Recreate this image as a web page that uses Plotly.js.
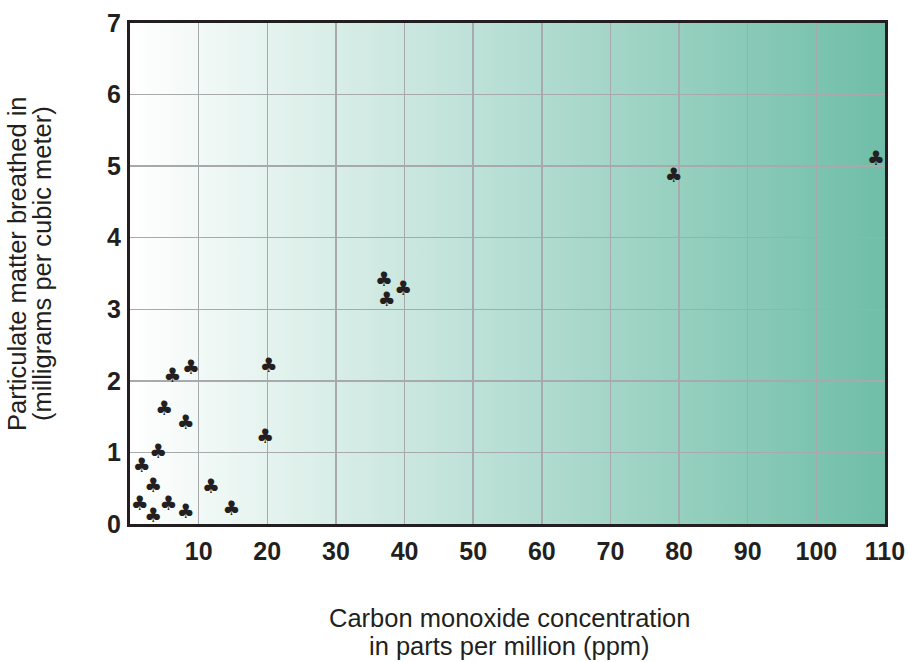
<!DOCTYPE html>
<html>
<head>
<meta charset="utf-8">
<script src="https://cdn.plot.ly/plotly-3.0.1.min.js"></script>
<style>html,body{margin:0;padding:0;background:#fff;}#chart{width:909px;height:662px;}</style>
</head>
<body>
<div id="chart"></div>
<script>
// Data
var coPpm = [1.4, 1.7, 3.4, 3.4, 4.1, 5.0, 5.6, 6.2, 8.1, 8.1, 8.9, 11.8, 14.8, 19.7, 20.2, 37.0, 37.4, 39.8, 79.2, 108.7];
var pmMg  = [0.27, 0.80, 0.52, 0.10, 0.99, 1.59, 0.27, 2.06, 1.40, 0.15, 2.16, 0.51, 0.19, 1.20, 2.19, 3.39, 3.12, 3.27, 4.85, 5.09];
var xTicks = [10, 20, 30, 40, 50, 60, 70, 80, 90, 100, 110];
var yTicks = [0, 1, 2, 3, 4, 5, 6, 7];
var xTitleLines = ["Carbon monoxide concentration", "in parts per million (ppm)"];
var yTitleLines = ["Particulate matter breathed in", "(milligrams per cubic meter)"];

var ink = "#231f20";
var svg = '<svg xmlns="http://www.w3.org/2000/svg" width="100" height="100" preserveAspectRatio="none" viewBox="0 0 100 100">' +
  '<defs><linearGradient id="g" x1="0" y1="0" x2="1" y2="0">' +
  '<stop offset="0" stop-color="#ffffff"/><stop offset="1" stop-color="#6fbea7"/>' +
  '</linearGradient></defs><rect x="0" y="0" width="100" height="100" fill="url(#g)"/></svg>';

var trace = {
  x: coPpm, y: pmMg, type: "scatter", mode: "text",
  text: coPpm.map(function(){ return "\u2663"; }),
  textposition: "middle center",
  textfont: {family: "DejaVu Sans", size: 20, color: ink, weight: "bold"},
  hoverinfo: "x+y", showlegend: false, cliponaxis: false
};

var tickFont = {family: "Liberation Sans, Arial, sans-serif", size: 25, color: ink, weight: "bold"};
var titleFont = {family: "Liberation Sans, Arial, sans-serif", size: 25.5, color: ink};

var layout = {
  width: 909, height: 662,
  margin: {l: 130, r: 24, t: 23, b: 138},
  paper_bgcolor: "#ffffff", plot_bgcolor: "rgba(0,0,0,0)",
  font: {family: "Liberation Sans, Arial, sans-serif", color: ink},
  images: [{source: "data:image/svg+xml;charset=utf-8," + encodeURIComponent(svg),
    xref: "paper", yref: "paper", x: 0, y: 1, sizex: 1, sizey: 1,
    xanchor: "left", yanchor: "top", sizing: "stretch", layer: "below"}],
  xaxis: {
    range: [0, 110], tickmode: "array", tickvals: xTicks, ticktext: xTicks.map(String),
    showgrid: true, gridcolor: "#a7a9ac", gridwidth: 1.5, zeroline: false,
    showline: true, mirror: true, linecolor: ink, linewidth: 3,
    ticks: "", tickfont: tickFont, ticklabelstandoff: 3
  },
  yaxis: {
    range: [0, 7], tickmode: "array", tickvals: yTicks, ticktext: yTicks.map(String),
    showgrid: true, gridcolor: "#a7a9ac", gridwidth: 1.5, zeroline: false,
    showline: true, mirror: true, linecolor: ink, linewidth: 3,
    ticks: "", tickfont: tickFont, ticklabelstandoff: 1
  },
  annotations: [
    {text: xTitleLines[0], xref: "paper", yref: "paper", x: 0.5027, y: -0.1876, xanchor: "center", yanchor: "middle", showarrow: false, font: titleFont},
    {text: xTitleLines[1], xref: "paper", yref: "paper", x: 0.5027, y: -0.2435, xanchor: "center", yanchor: "middle", showarrow: false, font: titleFont},
    {text: yTitleLines[0], xref: "paper", yref: "paper", x: -0.1490, y: 0.52, xanchor: "center", yanchor: "middle", textangle: -90, showarrow: false, font: titleFont},
    {text: yTitleLines[1], xref: "paper", yref: "paper", x: -0.1160, y: 0.52, xanchor: "center", yanchor: "middle", textangle: -90, showarrow: false, font: titleFont}
  ]
};

Plotly.newPlot("chart", [trace], layout, {displayModeBar: false, staticPlot: true});
</script>
</body>
</html>
